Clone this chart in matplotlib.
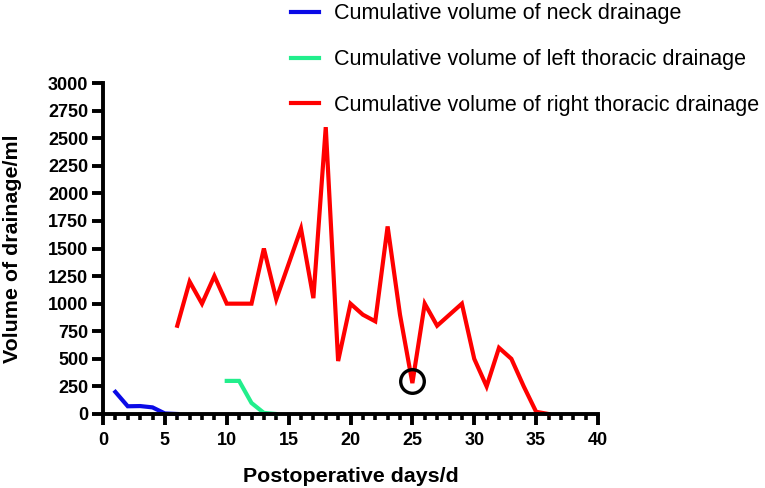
import matplotlib
matplotlib.use("Agg")
import matplotlib.pyplot as plt
from matplotlib.ticker import MultipleLocator

plt.rcParams["font.family"] = ["Liberation Sans", "DejaVu Sans"]

# data
neck_days = [1, 2, 3, 4, 5, 6]
neck_vol = [200, 70, 72, 60, 5, 0]

left_days = [10, 11, 12, 13, 14]
left_vol = [300, 300, 100, 10, 0]

right_days = list(range(6, 37))
right_vol = [800, 1200, 1000, 1250, 1000, 1000, 1000, 1500, 1040, 1360,
             1680, 1050, 2600, 480, 1000, 900, 840, 1700, 900, 280,
             1000, 800, 900, 1000, 500, 250, 600, 500, 250, 20, 0]

mark_day = [25]
mark_vol = [300]

labels = ["Cumulative volume of neck drainage",
          "Cumulative volume of left thoracic drainage",
          "Cumulative volume of right thoracic drainage"]
colors = ["#0A0AE6", "#22EE8C", "#FF0000"]

fig = plt.figure(figsize=(7.65, 4.88), dpi=100)
ax = fig.add_axes([103 / 765, 74 / 488, 495 / 765, 331 / 488])

lines = []
for d, v, c, lab in zip([neck_days, left_days, right_days],
                        [neck_vol, left_vol, right_vol], colors, labels):
    ln, = ax.plot(d, v, color=c, lw=3, label=lab, clip_on=False,
                  solid_joinstyle="miter")
    lines.append(ln)

ax.plot(mark_day, mark_vol, "o", ms=17, mfc="none", mec="black", mew=2.4,
        clip_on=False)

ax.set_xlim(0, 40)
ax.set_ylim(0, 3000)
ax.xaxis.set_major_locator(MultipleLocator(5))
ax.xaxis.set_minor_locator(MultipleLocator(1))
ax.yaxis.set_major_locator(MultipleLocator(250))

for s in ["top", "right"]:
    ax.spines[s].set_visible(False)
for s in ["left", "bottom"]:
    ax.spines[s].set_linewidth(2.8)

ax.tick_params(which="major", length=8, width=2.8, labelsize=13, pad=2.5)
ax.tick_params(axis="x", which="major", pad=5)
ax.tick_params(which="minor", length=4.5, width=2.6)
for t in ax.get_xticklabels() + ax.get_yticklabels():
    t.set_fontweight("bold")

ax.set_xlabel("Postoperative days/d", fontsize=15.4, fontweight="bold", labelpad=13)
ax.set_ylabel("Volume of drainage/ml", fontsize=15.4, fontweight="bold", labelpad=19)

fig.legend(handles=lines, loc="upper left", bbox_to_anchor=(276 / 765, 1.024),
           frameon=False, fontsize=15.5, handlelength=1.3, handletextpad=0.7,
           labelspacing=1.15, borderpad=0.2)

fig.savefig("out.png", dpi=100)
